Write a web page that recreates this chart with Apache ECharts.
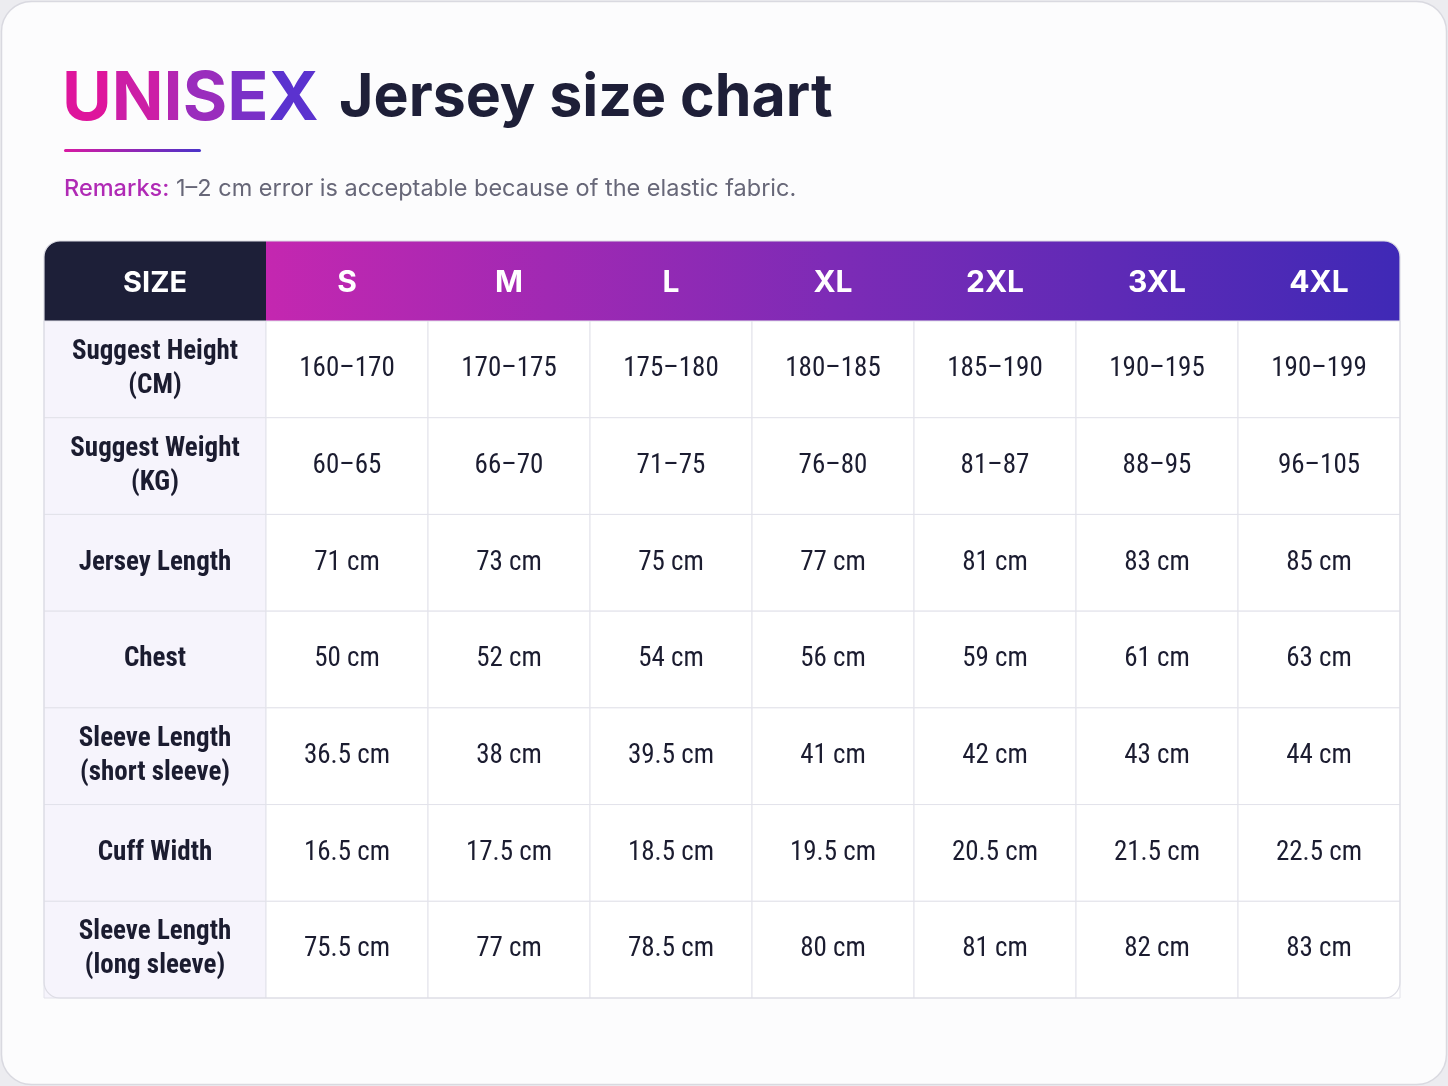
<!DOCTYPE html>
<html>
<head>
<meta charset="utf-8">
<title>UNISEX Jersey size chart</title>
<script src="https://cdn.jsdelivr.net/npm/echarts@6/dist/echarts.min.js"></script>
<style>
  html, body { margin: 0; padding: 0; background: #ececf0; }
  #chart { width: 1448px; height: 1086px; }
</style>
</head>
<body>
<div id="chart"></div>
<script>
// table data
const sizes = ['S', 'M', 'L', 'XL', '2XL', '3XL', '4XL'];
const rowLabels = [
    'Suggest Height\n(CM)',
    'Suggest Weight\n(KG)',
    'Jersey Length',
    'Chest',
    'Sleeve Length\n(short sleeve)',
    'Cuff Width',
    'Sleeve Length\n(long sleeve)',
];
const heightCm = ['160–170', '170–175', '175–180', '180–185', '185–190', '190–195', '190–199'];
const weightKg = ['60–65', '66–70', '71–75', '76–80', '81–87', '88–95', '96–105'];
const jerseyLength = [71, 73, 75, 77, 81, 83, 85];
const chest = [50, 52, 54, 56, 59, 61, 63];
const sleeveShort = [36.5, 38, 39.5, 41, 42, 43, 44];
const cuffWidth = [16.5, 17.5, 18.5, 19.5, 20.5, 21.5, 22.5];
const sleeveLong = [75.5, 77, 78.5, 80, 81, 82, 83];

const cm = v => v + ' cm';
const rows = [
    heightCm,
    weightKg,
    jerseyLength.map(cm),
    chest.map(cm),
    sleeveShort.map(cm),
    cuffWidth.map(cm),
    sleeveLong.map(cm),
];

const FONT_BODY = '"Liberation Sans Narrow", "Roboto Condensed", Roboto, sans-serif';
const FONT_TITLE = 'Inter, "Noto Sans", sans-serif';
const LINE = '#e2e2ea';
const INK = '#1b1c30';

const labelCells = rowLabels.map((t, i) => [0, i, t]);
const valueCells = [];
rows.forEach((r, yi) => r.forEach((v, xi) => valueCells.push([xi, yi, v])));

// "UNISEX" fades pink -> violet; one rich style per letter
const titleWord = 'UNISEX';
const titleColors = ['#de159c', '#cc1ea6', '#b426b2', '#9a2dbd', '#7a30c7', '#5b32cf'];
const titleRich = {};
titleWord.split('').forEach((ch, i) => {
    titleRich['c' + i] = { font: 'bold 68px ' + FONT_TITLE, fill: titleColors[i] };
});
const titleText = titleWord.split('').map((ch, i) => '{c' + i + '|' + ch + '}').join('');

function cellRenderer(fill, font, lineHeight) {
    return function (params, api) {
        const c = api.coord([api.value(0), api.value(1)]);
        const s = api.size([1, 1]);
        return {
            type: 'rect',
            shape: { x: c[0] - s[0] / 2, y: c[1] - s[1] / 2, width: s[0], height: s[1] },
            style: { fill: fill, stroke: LINE, lineWidth: 1 },
            textContent: {
                style: {
                    text: api.value(2),
                    fill: INK,
                    font: font,
                    lineHeight: lineHeight,
                    align: 'center',
                },
            },
            textConfig: { position: 'inside' },
        };
    };
}

const chart = echarts.init(document.getElementById('chart'), null, { renderer: 'canvas' });

const headerTop = 241, gridTop = 321, tableLeft = 44, labelW = 222, tableRight = 1400, tableBottom = 998;

chart.setOption({
    backgroundColor: 'transparent',
    animation: false,
    grid: [
        { left: tableLeft, top: gridTop, width: labelW, height: tableBottom - gridTop },
        { left: tableLeft + labelW, top: gridTop, width: tableRight - tableLeft - labelW, height: tableBottom - gridTop },
    ],
    xAxis: [
        {
            gridIndex: 0, type: 'category', data: ['SIZE'], position: 'top',
            axisLine: { show: false }, axisTick: { show: false }, splitLine: { show: false },
            axisLabel: { color: '#fff', fontSize: 29, fontWeight: 'bold', fontFamily: FONT_TITLE, margin: 38, verticalAlign: 'middle' },
        },
        {
            gridIndex: 1, type: 'category', data: sizes, position: 'top',
            axisLine: { show: false }, axisTick: { show: false }, splitLine: { show: false },
            axisLabel: { color: '#fff', fontSize: 30, fontWeight: 'bold', fontFamily: FONT_TITLE, margin: 38, verticalAlign: 'middle' },
        },
    ],
    yAxis: [
        { gridIndex: 0, type: 'category', data: rowLabels, inverse: true, show: false },
        { gridIndex: 1, type: 'category', data: rowLabels, inverse: true, show: false },
    ],
    graphic: [
        // card
        {
            type: 'rect', z: -10,
            shape: { x: 1.5, y: 1.5, width: 1445, height: 1083, r: 30 },
            style: { fill: '#fcfcfd', stroke: '#d9d9e0', lineWidth: 1.5 },
        },
        // title
        {
            type: 'text', left: 62, top: 66,
            style: { text: titleText, rich: titleRich },
        },
        {
            type: 'text', left: 339, top: 69,
            style: { text: 'Jersey size chart', font: 'bold 59px ' + FONT_TITLE, fill: '#1e1f38' },
        },
        {
            type: 'rect',
            shape: { x: 64, y: 149, width: 137, height: 3, r: 1.5 },
            style: {
                fill: new echarts.graphic.LinearGradient(0, 0, 1, 0, [
                    { offset: 0, color: '#d91aa2' },
                    { offset: 1, color: '#4a33c9' },
                ]),
            },
        },
        {
            type: 'text', left: 64, top: 177,
            style: {
                text: '{a|Remarks:}  {b|1–2 cm error is acceptable because of the elastic fabric.}',
                rich: {
                    a: { font: '500 23.5px ' + FONT_TITLE, fill: '#b02ab5' },
                    b: { font: '23.5px ' + FONT_TITLE, fill: '#676778' },
                },
            },
        },
        // header band
        {
            type: 'rect', z: -1,
            shape: { x: tableLeft + labelW, y: headerTop, width: tableRight - tableLeft - labelW, height: gridTop - headerTop, r: [0, 16, 0, 0] },
            style: {
                fill: new echarts.graphic.LinearGradient(0, 0, 1, 0, [
                    { offset: 0, color: '#c427b0' },
                    { offset: 0.5, color: '#7d2bb6' },
                    { offset: 1, color: '#3f29b6' },
                ]),
            },
        },
        {
            type: 'rect', z: -1,
            shape: { x: tableLeft, y: headerTop, width: labelW, height: gridTop - headerTop, r: [16, 0, 0, 0] },
            style: { fill: '#1d1f38' },
        },
        // outer border of body
        {
            type: 'rect', z: 100,
            shape: { x: tableLeft, y: headerTop, width: tableRight - tableLeft, height: tableBottom - headerTop, r: 16 },
            style: { fill: 'none', stroke: '#dcdce4', lineWidth: 1.2 },
        },
    ],
    series: [
        {
            type: 'custom', xAxisIndex: 0, yAxisIndex: 0,
            data: labelCells,
            renderItem: cellRenderer('#f6f4fc', 'bold 27px ' + FONT_BODY, 34),
        },
        {
            type: 'custom', xAxisIndex: 1, yAxisIndex: 1,
            data: valueCells,
            renderItem: cellRenderer('#ffffff', '27px ' + FONT_BODY, 34),
        },
    ],
});
</script>
</body>
</html>
